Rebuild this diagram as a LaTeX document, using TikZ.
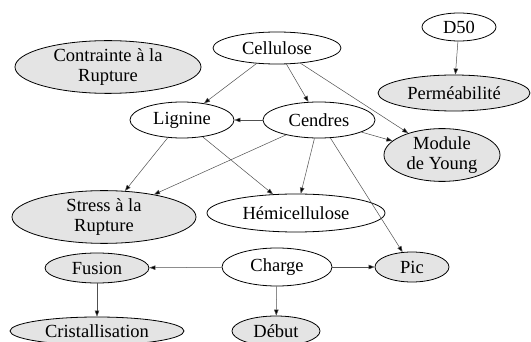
\documentclass[tikz,border=0pt]{standalone}
\usepackage{fontspec}
\setmainfont{Liberation Serif}
\usetikzlibrary{shapes.geometric,arrows.meta}
\definecolor{nodefill}{HTML}{E4E4E4}
\definecolor{edgecol}{HTML}{505050}
\tikzset{
  base/.style={ellipse, draw=black, line width=0.8pt, inner sep=0pt, align=center,
    font=\fontsize{18.5}{20.5}\selectfont},
  plain/.style={base, fill=white},
  shaded/.style={base, fill=nodefill},
  conn/.style={draw=edgecol, line width=0.5pt, -{Triangle[length=6pt,width=4.5pt,fill=black]}},
}
\begin{document}
\begin{tikzpicture}[x=1pt,y=-1pt]
\useasboundingbox[fill=white] (0,0) rectangle (531,342);
\node[plain, minimum width=128pt, minimum height=32pt] (cell) at (277,48) {Cellulose};
\node[plain, minimum width=74pt, minimum height=28pt] (d50) at (459,27) {D50};
\node[shaded, minimum width=186pt, minimum height=52pt] (contr) at (108,67) {Contrainte à la\\Rupture};
\node[shaded, minimum width=152pt, minimum height=36pt] (perm) at (454,93) {Perméabilité};
\node[plain, minimum width=104pt, minimum height=36pt] (lign) at (182,120) {Lignine};
\node[plain, minimum width=112pt, minimum height=36pt] (cend) at (319,120) {Cendres};
\node[shaded, minimum width=116pt, minimum height=46pt] (mod) at (442,155) {Module\\de Young};
\node[shaded, minimum width=184pt, minimum height=48pt] (stress) at (104,217) {Stress à la\\Rupture};
\node[plain, minimum width=178pt, minimum height=38pt] (hemi) at (296,213) {Hémicellulose};
\node[shaded, minimum width=104pt, minimum height=30pt] (fus) at (97,268) {Fusion};
\node[plain, minimum width=110pt, minimum height=38pt] (charge) at (277,267) {Charge};
\node[shaded, minimum width=74pt, minimum height=30pt] (pic) at (412,267) {Pic};
\node[shaded, minimum width=174pt, minimum height=28pt] (crist) at (97,331) {Cristallisation};
\node[shaded, minimum width=88pt, minimum height=30pt] (debut) at (276,331) {Début};
\draw[conn] (cell) -- (lign);
\draw[conn] (cell) -- (cend);
\draw[conn] (cell) -- (mod);
\draw[conn] (cend) -- (lign);
\draw[conn] (cend) -- (mod);
\draw[conn] (cend) -- (stress);
\draw[conn] (cend) -- (hemi);
\draw[conn] (cend) -- (pic);
\draw[conn] (lign) -- (stress);
\draw[conn] (lign) -- (hemi);
\draw[conn] (d50) -- (perm);
\draw[conn] (charge) -- (fus);
\draw[conn] (charge) -- (pic);
\draw[conn] (charge) -- (debut);
\draw[conn] (fus) -- (crist);
\end{tikzpicture}
\end{document}
